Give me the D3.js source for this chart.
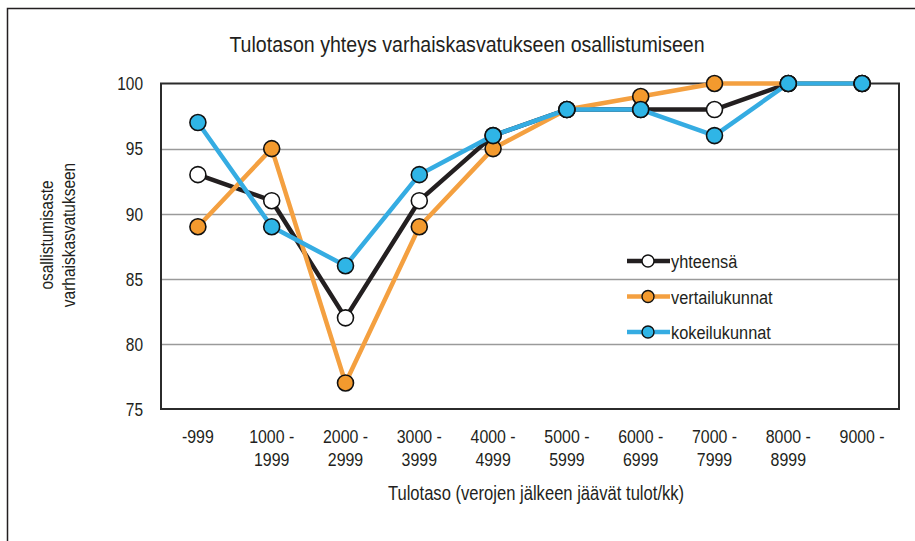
<!DOCTYPE html>
<html>
<head>
<meta charset="utf-8">
<script src="https://cdn.jsdelivr.net/npm/d3@7"></script>
<style>
  body { margin: 0; background: #fff; }
  text { font-family: "Liberation Sans", Arial, sans-serif; fill: #231f20; }
</style>
</head>
<body>
<svg id="chart" width="915" height="541"></svg>
<script>
"use strict";

// income brackets (x axis), two-line labels
var categories = ["-999", "1000 - 1999", "2000 - 2999", "3000 - 3999", "4000 - 4999",
  "5000 - 5999", "6000 - 6999", "7000 - 7999", "8000 - 8999", "9000 -"]
var tickLines = [["-999"], ["1000 -", "1999"], ["2000 -", "2999"], ["3000 -", "3999"],
  ["4000 -", "4999"], ["5000 -", "5999"], ["6000 -", "6999"], ["7000 -", "7999"],
  ["8000 -", "8999"], ["9000 -"]]

var yhteensa = [93, 91, 82, 91, 96, 98, 98, 98, 100, 100]
var vertailukunnat = [89, 95, 77, 89, 95, 98, 99, 100, 100, 100]
var kokeilukunnat = [97, 89, 86, 93, 96, 98, 98, 96, 100, 100]

var yTicks = [75, 80, 85, 90, 95, 100]

var series = [
  { name: "yhteensä", values: yhteensa, line: "#231f20", fill: "#ffffff" },
  { name: "vertailukunnat", values: vertailukunnat, line: "#f4a040", fill: "#f39a2e" },
  { name: "kokeilukunnat", values: kokeilukunnat, line: "#35ace2", fill: "#2fb5e6" }
]

var svg = d3.select("#chart")
var margin = { left: 161, right: 16, top: 83.5, bottom: 132 }
var width = 915, height = 541
var squeeze = 0.86   // the original font is a narrow one

// place a text at (tx, ty) and squeeze it horizontally
function narrow(sel, tx, ty, rot) {
  sel.attr("transform", "translate(" + tx + "," + ty + ")" + (rot ? " rotate(" + rot + ")" : "") +
    " scale(" + squeeze + ",1)")
}

// outer frame, runs off the right and bottom edges
svg.append("path")
  .attr("d", "M7.5," + (height + 5) + "V8.5H" + (width + 5))
  .attr("fill", "none")
  .attr("stroke", "#231f20")
  .attr("stroke-width", 1.5)

var x = d3.scaleBand()
  .domain(categories)
  .range([margin.left, width - margin.right])

var y = d3.scaleLinear()
  .domain([75, 100])
  .range([height - margin.bottom, margin.top])

// gridlines
svg.append("g")
  .selectAll("line")
  .data(yTicks.filter(function(d) { return d > 75 && d < 100 }))
  .enter()
  .append("line")
    .attr("x1", margin.left)
    .attr("x2", width - margin.right)
    .attr("y1", function(d) { return Math.round(y(d)) + 0.5 })
    .attr("y2", function(d) { return Math.round(y(d)) + 0.5 })
    .attr("stroke", "#9a9a9a")
    .attr("stroke-width", 1.5)

// plot border
svg.append("rect")
  .attr("x", margin.left)
  .attr("y", y(100))
  .attr("width", width - margin.right - margin.left)
  .attr("height", y(75) - y(100))
  .attr("fill", "none")
  .attr("stroke", "#2b2b2b")
  .attr("stroke-width", 2)

// y axis labels
var yAxis = d3.axisLeft(y).tickValues(yTicks).tickSize(0)
var gy = svg.append("g")
  .attr("transform", "translate(" + margin.left + ",0)")
  .call(yAxis)
gy.select(".domain").remove()
gy.selectAll("text")
  .attr("font-size", 18)
  .attr("font-family", null)
  .attr("fill", "#231f20")
  .attr("x", 0)
  .attr("dy", "0.35em")
  .attr("transform", "translate(-18,0) scale(" + squeeze + ",1)")

// x axis labels, split over two lines
var gx = svg.append("g")
  .selectAll("text")
  .data(categories)
  .enter()
  .append("text")
    .attr("text-anchor", "middle")
    .attr("font-size", 18.5)
    .each(function(d) { narrow(d3.select(this), x(d) + x.bandwidth() / 2, 443) })
gx.each(function(d, i) {
  var t = d3.select(this)
  tickLines[i].forEach(function(s, j) {
    t.append("tspan")
      .attr("x", 0)
      .attr("dy", j === 0 ? 0 : 23)
      .text(s)
  })
})

// titles
svg.append("text")
  .attr("text-anchor", "middle")
  .attr("font-size", 22.8)
  .call(narrow, 467, 52)
  .text("Tulotason yhteys varhaiskasvatukseen osallistumiseen")

svg.append("text")
  .attr("text-anchor", "middle")
  .attr("font-size", 19.3)
  .call(narrow, 536, 500)
  .text("Tulotaso (verojen jälkeen jäävät tulot/kk)")

var yTitle = svg.append("text")
  .attr("text-anchor", "middle")
  .attr("font-size", 18)
  .call(narrow, 53, 235, -90)
yTitle.append("tspan").attr("x", 0).attr("dy", 0).text("osallistumisaste")
yTitle.append("tspan").attr("x", 0).attr("dy", 22).text("varhaiskasvatukseen")

// lines and markers
var line = d3.line()
  .x(function(d, i) { return x(categories[i]) + x.bandwidth() / 2 })
  .y(function(d) { return y(d) })

series.forEach(function(s) {
  svg.append("path")
    .datum(s.values)
    .attr("d", line)
    .attr("fill", "none")
    .attr("stroke", s.line)
    .attr("stroke-width", 4.5)
    .attr("stroke-linejoin", "round")
})
series.forEach(function(s) {
  svg.append("g")
    .selectAll("circle")
    .data(s.values)
    .enter()
    .append("circle")
      .attr("cx", function(d, i) { return x(categories[i]) + x.bandwidth() / 2 })
      .attr("cy", function(d) { return y(d) })
      .attr("r", 8)
      .attr("fill", s.fill)
      .attr("stroke", "#111")
      .attr("stroke-width", 1.6)
})

// legend
var legend = svg.append("g")
  .selectAll("g")
  .data(series)
  .enter()
  .append("g")
    .attr("transform", function(d, i) { return "translate(627," + (261 + i * 35.5) + ")" })

legend.append("line")
  .attr("x1", 0)
  .attr("x2", 43)
  .attr("stroke", function(d) { return d.line })
  .attr("stroke-width", 4.5)
legend.append("circle")
  .attr("cx", 21)
  .attr("r", 6)
  .attr("fill", function(d) { return d.fill })
  .attr("stroke", "#111")
  .attr("stroke-width", 1.4)
legend.append("text")
  .attr("font-size", 19)
  .each(function() { narrow(d3.select(this), 44, 7) })
  .text(function(d) { return d.name })
</script>
</body>
</html>
